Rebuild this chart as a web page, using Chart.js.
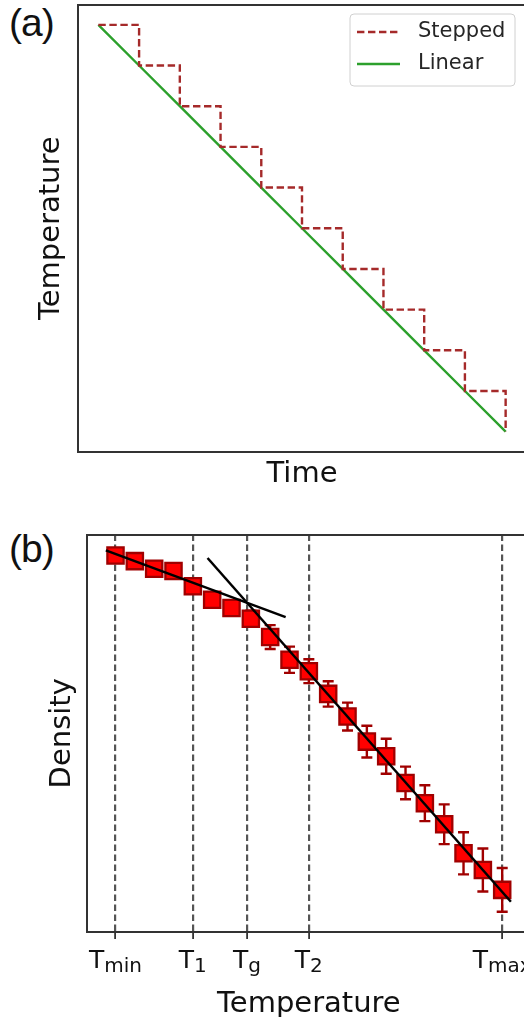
<!DOCTYPE html>
<html>
<head>
<meta charset="utf-8">
<title>Cooling schedule and density</title>
<script src="https://cdn.jsdelivr.net/npm/chart.js@4.4.1/dist/chart.umd.min.js"></script>
<style>
    html, body { margin: 0; padding: 0; background: #fff; overflow: hidden; }
    body { position: relative; width: 524px; height: 1017px; }
    canvas { position: absolute; left: 0; }
    #coolingChart { top: 0; }
    #densityChart { top: 500px; }
    .panel-tag { position: absolute; left: 9px; font-family: "Liberation Sans", Arial, sans-serif; font-size: 39px; line-height: 1; color: #111; letter-spacing: -1px; }
</style>
</head>
<body>
<div class="panel-tag" style="top: 3px;">(a)</div>
<div class="panel-tag" style="top: 529px;">(b)</div>
<canvas id="coolingChart" width="545" height="500"></canvas>
<canvas id="densityChart" width="545" height="522"></canvas>

<script>
// (a) cooling schedule
const timeSteps = [0, 1, 2, 3, 4, 5, 6, 7, 8, 9, 10];
const steppedTemp = [10, 9, 8, 7, 6, 5, 4, 3, 2, 1, 0];
const linearTemp = [10, 9, 8, 7, 6, 5, 4, 3, 2, 1, 0];

// (b) density vs temperature
const tempPoints = [0, 1, 2, 3, 4, 5, 6, 7, 8, 9, 10, 11, 12, 13, 14, 15, 16, 17, 18, 19, 20];
const density = [94.7, 93.3, 91.4, 90.8, 87.0, 83.6, 81.5, 78.8, 74.2, 68.5, 65.6, 59.9, 54.2, 47.9, 44.2, 37.5, 32.4, 27.1, 19.8, 15.6, 10.6];
const densityErr = [1.0, 1.0, 1.3, 1.3, 1.5, 1.5, 1.8, 2.0, 3.0, 3.3, 3.0, 3.2, 3.5, 4.0, 4.4, 4.1, 4.5, 5.0, 5.3, 5.4, 5.5];
const glassFitX = [-0.5, 8.8];
const glassFitY = [96.0, 79.2];
const liquidFitX = [4.76, 20.45];
const liquidFitY = [94.1, 7.6];
const markerTemps = [0, 4, 6.8, 10, 20];
const markerSubs = ['min', '1', 'g', '2', 'max'];

Chart.defaults.font.family = "'DejaVu Sans', sans-serif";
Chart.defaults.color = '#222';

function pairs(xs, ys) {
    return xs.map(function (x, i) { return {x: x, y: ys[i]}; });
}

// plain frame axis with nothing but its border line
function frameAxis(position, extra) {
    return Object.assign({
        type: 'linear',
        position: position,
        grid: {display: false, drawTicks: false},
        ticks: {display: false},
        border: {display: true, color: '#333', width: 2}
    }, extra || {});
}

// Legend box drawn inside the plot, top right
const legendBox = {
    id: 'legendBox',
    afterDatasetsDraw: function (chart) {
        const ctx = chart.ctx, area = chart.chartArea;
        const w = 165, h = 72;
        const x0 = area.right - 11 - w, y0 = area.top + 9.5;
        ctx.save();
        ctx.beginPath();
        ctx.roundRect(x0, y0, w, h, 4);
        ctx.fillStyle = 'rgba(255,255,255,0.85)';
        ctx.fill();
        ctx.strokeStyle = '#d0d0d0';
        ctx.lineWidth = 1;
        ctx.stroke();
        chart.data.datasets.forEach(function (ds, i) {
            const y = y0 + 18 + i * 32;
            ctx.beginPath();
            ctx.setLineDash(ds.borderDash || []);
            ctx.strokeStyle = ds.borderColor;
            ctx.lineWidth = ds.borderWidth;
            ctx.moveTo(x0 + 7, y);
            ctx.lineTo(x0 + 50, y);
            ctx.stroke();
            ctx.setLineDash([]);
            ctx.fillStyle = '#262626';
            ctx.font = "21px 'DejaVu Sans'";
            ctx.textBaseline = 'middle';
            ctx.fillText(ds.label, x0 + 68, y);
        });
        ctx.restore();
    }
};

var coolingChart = new Chart(document.getElementById('coolingChart'), {
    type: 'line',
    data: {
        datasets: [{
            label: 'Stepped',
            data: pairs(timeSteps, steppedTemp),
            stepped: true,
            borderColor: '#a52a2a',
            borderDash: [7.4, 3.6],
            borderWidth: 2.4,
            pointRadius: 0,
            fill: false
        }, {
            label: 'Linear',
            data: pairs(timeSteps, linearTemp),
            borderColor: '#2ca02c',
            borderWidth: 2.4,
            pointRadius: 0,
            fill: false
        }]
    },
    options: {
        responsive: false,
        animation: false,
        devicePixelRatio: 1,
        layout: {padding: {left: 34.4, top: 4.5, right: 19, bottom: 8}},
        plugins: {legend: {display: false}, tooltip: {enabled: false}},
        scales: {
            x: frameAxis('bottom', {
                min: -0.5, max: 10.5,
                title: {display: true, text: 'Time', font: {size: 29}, color: '#111', padding: {top: 5.2, bottom: 0}}
            }),
            y: frameAxis('left', {
                min: -0.5, max: 10.5,
                title: {display: true, text: 'Temperature', font: {size: 29}, color: '#111', padding: {top: 0, bottom: 8.8}}
            }),
            x2: frameAxis('top', {min: 0, max: 1}),
            y2: frameAxis('right', {min: 0, max: 1})
        }
    },
    plugins: [legendBox]
});


// Error bars under the square markers
const errorBars = {
    id: 'errorBars',
    beforeDatasetsDraw: function (chart) {
        const ctx = chart.ctx, xs = chart.scales.x, ys = chart.scales.y;
        ctx.save();
        ctx.strokeStyle = '#a00000';
        ctx.lineWidth = 2.4;
        tempPoints.forEach(function (t, i) {
            const px = xs.getPixelForValue(t);
            const top = ys.getPixelForValue(density[i] + densityErr[i]);
            const bot = ys.getPixelForValue(density[i] - densityErr[i]);
            ctx.beginPath();
            ctx.moveTo(px, top); ctx.lineTo(px, bot);
            ctx.moveTo(px - 5.5, top); ctx.lineTo(px + 5.5, top);
            ctx.moveTo(px - 5.5, bot); ctx.lineTo(px + 5.5, bot);
            ctx.stroke();
        });
        ctx.restore();
    }
};

// T labels with subscripts under the ticks
const subTickLabels = {
    id: 'subTickLabels',
    afterDraw: function (chart) {
        const ctx = chart.ctx, xs = chart.scales.x;
        const base = chart.chartArea.bottom + 36.3;
        ctx.save();
        ctx.fillStyle = '#111';
        ctx.textBaseline = 'alphabetic';
        markerTemps.forEach(function (t, i) {
            const px = xs.getPixelForValue(t);
            ctx.font = "25px 'DejaVu Sans'";
            const wT = ctx.measureText('T').width;
            ctx.font = "20px 'DejaVu Sans'";
            const wS = ctx.measureText(markerSubs[i]).width;
            const start = px - (wT + wS) / 2;
            ctx.font = "25px 'DejaVu Sans'";
            ctx.fillText('T', start, base);
            ctx.font = "20px 'DejaVu Sans'";
            ctx.fillText(markerSubs[i], start + wT, base + 4);
        });
        ctx.restore();
    }
};

var densityChart = new Chart(document.getElementById('densityChart'), {
    type: 'scatter',
    data: {
        datasets: [{
            label: 'Glass fit',
            data: pairs(glassFitX, glassFitY),
            showLine: true,
            borderColor: '#000',
            borderWidth: 2.5,
            pointRadius: 0,
            order: 0
        }, {
            label: 'Liquid fit',
            data: pairs(liquidFitX, liquidFitY),
            showLine: true,
            borderColor: '#000',
            borderWidth: 2.5,
            pointRadius: 0,
            order: 0
        }, {
            label: 'Density',
            data: pairs(tempPoints, density),
            pointStyle: 'rect',
            pointRadius: 11.5,
            backgroundColor: '#ff0000',
            borderColor: '#a00000',
            borderWidth: 2.3,
            order: 1
        }]
    },
    options: {
        responsive: false,
        animation: false,
        devicePixelRatio: 1,
        layout: {padding: {left: 44.6, top: 34.5, right: 13, bottom: 0.6}},
        plugins: {legend: {display: false}, tooltip: {enabled: false}},
        scales: {
            x: {
                type: 'linear',
                position: 'bottom',
                min: -1.5, max: 21.5,
                afterBuildTicks: function (axis) {
                    axis.ticks = markerTemps.map(function (v) { return {value: v}; });
                },
                grid: {
                    display: true, drawOnChartArea: true, drawTicks: true,
                    color: '#555', lineWidth: 2.2,
                    tickLength: 7, tickColor: '#333', tickWidth: 1.8, tickBorderDash: []
                },
                border: {display: true, color: '#333', width: 2, dash: [6.5, 3.5]},
                ticks: {display: false},
                title: {display: true, text: 'Temperature', font: {size: 29}, color: '#111', padding: {top: 47.6, bottom: 0}}
            },
            y: frameAxis('left', {
                min: 0, max: 100,
                title: {display: true, text: 'Density', font: {size: 29}, color: '#111', padding: {top: 0, bottom: 7.1}}
            }),
            x2: frameAxis('top', {min: 0, max: 1}),
            y2: frameAxis('right', {min: 0, max: 1})
        }
    },
    plugins: [errorBars, subTickLabels]
});
</script>
</body>
</html>
